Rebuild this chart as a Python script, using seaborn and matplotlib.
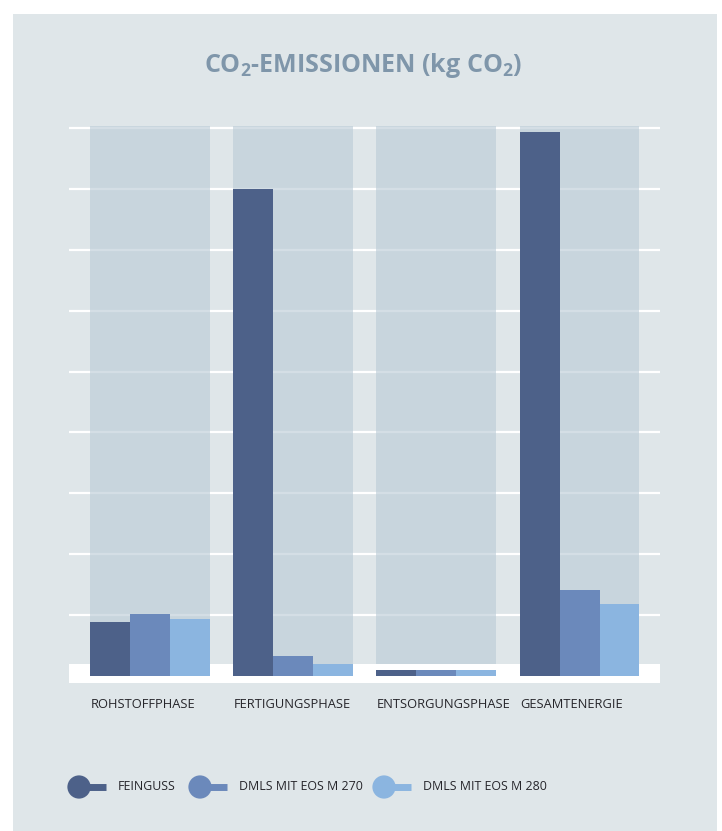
import numpy as np
import pandas as pd
import matplotlib
matplotlib.use("Agg")
import matplotlib.pyplot as plt
from matplotlib.patches import Rectangle
import seaborn as sns

# ---- data (grid units) ----
categories = ["ROHSTOFFPHASE", "FERTIGUNGSPHASE", "ENTSORGUNGSPHASE", "GESAMTENERGIE"]
series = ["FEINGUSS", "DMLS MIT EOS M 270", "DMLS MIT EOS M 280"]
feinguss = [0.88, 8.0, 0.09, 8.94]
dmls_m270 = [1.01, 0.32, 0.09, 1.41]
dmls_m280 = [0.93, 0.19, 0.09, 1.18]
title = "CO$_2$-EMISSIONEN (kg CO$_2$)"

colors = ["#4d6189", "#6b89bb", "#8bb5e0"]
bg = "#dfe6e9"
panel = "#bdcdd8"
text_col = "#26262b"
title_col = "#7f96aa"

df = pd.DataFrame({
    "phase": categories * 3,
    "method": [s for s in series for _ in categories],
    "value": feinguss + dmls_m270 + dmls_m280,
})

sns.set_theme(style="white")
plt.rcParams["font.family"] = ["Open Sans", "DejaVu Sans"]
plt.rcParams["mathtext.fontset"] = "custom"
plt.rcParams["mathtext.rm"] = "Open Sans:bold"
plt.rcParams["mathtext.default"] = "rm"

W, H = 722, 831
fig = plt.figure(figsize=(W / 100, H / 100), dpi=100, facecolor="white")
fig.patches.append(Rectangle((13 / W, 0), (717 - 13) / W, (H - 14) / H,
                             transform=fig.transFigure, facecolor=bg,
                             edgecolor="none", zorder=-10))

# axes placement in pixels
ax_l, ax_r, ax_t, ax_b = 69, 660, 126, 683
ax = fig.add_axes([ax_l / W, 1 - ax_b / H, (ax_r - ax_l) / W, (ax_b - ax_t) / H])
ax.set_facecolor("none")

group_w = 0.837
sns.barplot(data=df, x="phase", y="value", hue="method", order=categories,
            hue_order=series, palette=colors, width=group_w, gap=0,
            saturation=1, legend=False, ax=ax, errorbar=None)
for cont in ax.containers:
    for p in cont:
        p.set_zorder(3)
        p.set_edgecolor("none")

unit = 60.8
ymin = -(683 - 675.5) / unit
ymax = (675.5 - 126) / unit
band_top = (675.5 - 664) / unit
ax.set_ylim(ymin, ymax)
xl = -(150 - 69) / 143.3
xr = 3 + (660 - 579.5) / 143.3
ax.set_xlim(xl, xr)

# grid lines
ax.set_yticks(np.arange(1, 10))
ax.yaxis.grid(True, color="white", linewidth=1.6, zorder=0.5)
ax.xaxis.grid(False)
ax.set_axisbelow(True)

# category background panels
pos = np.arange(len(categories))
ax.bar(pos, ymax - band_top, bottom=band_top, width=group_w,
       color=panel, alpha=0.65, zorder=1, linewidth=0)
# white base band
ax.axhspan(ymin, band_top, color="white", zorder=1.5, linewidth=0)

for s in ax.spines.values():
    s.set_visible(False)
ax.set_xlabel("")
ax.set_ylabel("")
ax.set_yticklabels([])
# labels left-aligned with each panel
ax.set_xticks(pos - group_w / 2 + 0.005)
ax.set_xticklabels(categories, ha="left")
ax.tick_params(axis="both", length=0)
ax.tick_params(axis="x", pad=10.5, labelsize=9.3, labelcolor=text_col)

# title
fig.text(363 / W, 1 - 65 / H, title, ha="center", va="center",
         fontsize=18, fontweight="bold", color=title_col)

# legend
lax = fig.add_axes([0, 0, 1, 1], zorder=5)
lax.set_xlim(0, W)
lax.set_ylim(H, 0)
lax.axis("off")
cx = [79, 200, 384]
lx = [118, 239, 423]
ly = 787
for i, name in enumerate(series):
    lax.plot([cx[i], cx[i] + 27], [ly, ly], color=colors[i], lw=5,
             solid_capstyle="butt")
    lax.scatter([cx[i]], [ly], s=280, color=colors[i], edgecolor="none", zorder=3)
    lax.text(lx[i], ly, name, va="center", ha="left", fontsize=8.9, color=text_col)

fig.savefig("out.png", dpi=100, facecolor="white")
